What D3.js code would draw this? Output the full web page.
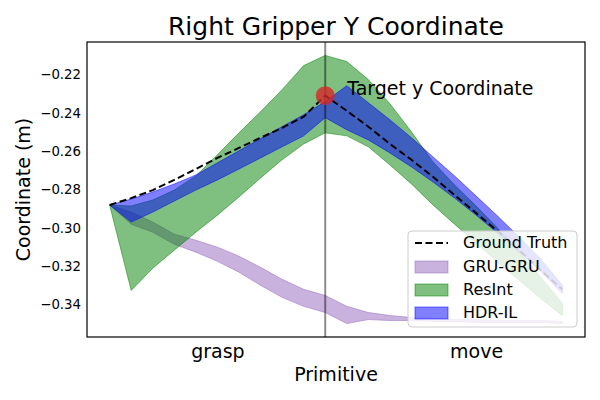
<!DOCTYPE html>
<html><head><meta charset="utf-8">
<script src="https://cdn.jsdelivr.net/npm/d3@7/dist/d3.min.js"></script>
<style>body{margin:0;background:#fff} text{font-family:"DejaVu Sans",sans-serif;fill:#000}</style>
</head><body><svg id="c" width="600" height="400"></svg>
<script>
const steps = [0,1,2,3,4,5,6,7,8,9,10,11,12,13,14,15,16,17,18,19,20,21];
const groundTruth = [-0.2881,-0.2845,-0.2803,-0.2750,-0.2693,-0.2635,-0.2583,-0.2530,-0.2478,-0.2420,-0.2310,-0.2389,-0.2472,-0.2562,-0.2645,-0.2734,-0.2829,-0.2923,-0.3017,-0.3117,-0.3222,-0.3321];
const gruUpper = [-0.2881,-0.2918,-0.2970,-0.3033,-0.3065,-0.3101,-0.3148,-0.3206,-0.3269,-0.3321,-0.3353,-0.3410,-0.3442,-0.3458,-0.3468,-0.3473,-0.3479,-0.3479,-0.3484,-0.3484,-0.3484,-0.3489];
const gruLower = [-0.2881,-0.2981,-0.3023,-0.3086,-0.3127,-0.3175,-0.3232,-0.3300,-0.3363,-0.3410,-0.3442,-0.3500,-0.3479,-0.3484,-0.3484,-0.3489,-0.3489,-0.3494,-0.3494,-0.3494,-0.3494,-0.3500];
const resUpper = [-0.2881,-0.2886,-0.2855,-0.2803,-0.2729,-0.2619,-0.2504,-0.2394,-0.2279,-0.2153,-0.2100,-0.2132,-0.2226,-0.2352,-0.2499,-0.2656,-0.2776,-0.2886,-0.3002,-0.3127,-0.3258,-0.3395];
const resLower = [-0.2881,-0.3327,-0.3211,-0.3117,-0.3023,-0.2934,-0.2839,-0.2740,-0.2645,-0.2562,-0.2504,-0.2520,-0.2577,-0.2672,-0.2771,-0.2881,-0.2981,-0.3080,-0.3180,-0.3274,-0.3369,-0.3458];
const hdrUpper = [-0.2881,-0.2850,-0.2813,-0.2771,-0.2724,-0.2661,-0.2598,-0.2535,-0.2472,-0.2410,-0.2341,-0.2258,-0.2347,-0.2436,-0.2530,-0.2630,-0.2729,-0.2834,-0.2939,-0.3049,-0.3164,-0.3300];
const hdrLower = [-0.2881,-0.2970,-0.2918,-0.2860,-0.2803,-0.2750,-0.2693,-0.2635,-0.2577,-0.2520,-0.2425,-0.2488,-0.2541,-0.2609,-0.2682,-0.2761,-0.2845,-0.2934,-0.3028,-0.3127,-0.3227,-0.3342];
const seriesNames = ["Ground Truth","GRU-GRU","ResInt","HDR-IL"];
const xTickLabels = ["grasp","move"];
const xTickPositions = [5,17];
const yTicks = [-0.34,-0.32,-0.30,-0.28,-0.26,-0.24,-0.22];
const boundaryStep = [10];
const target = [10, -0.231];
const targetLabel = ["Target y Coordinate"];

const svg = d3.select("#c");
const L = 87, R = 585, T = 42, B = 337;

const xMin = d3.min(steps), xMax = d3.max(steps);
const xPad = (xMax - xMin) * 0.05;
const x = d3.scaleLinear().domain([xMin - xPad, xMax + xPad]).range([L, R]);
const allY = [].concat(groundTruth, gruUpper, gruLower, resUpper, resLower, hdrUpper, hdrLower);
const yMin = d3.min(allY), yMax = d3.max(allY);
const yPad = (yMax - yMin) * 0.05;
const y = d3.scaleLinear().domain([yMin - yPad, yMax + yPad]).range([B, T]);

const bands = [
  {name: seriesNames[1], up: gruUpper, lo: gruLower, color: "#9467bd"},
  {name: seriesNames[2], up: resUpper, lo: resLower, color: "#008000"},
  {name: seriesNames[3], up: hdrUpper, lo: hdrLower, color: "#0000ff"}
];

const area = d3.area().x((d,i) => x(steps[i]));
const plot = svg.append("g");
bands.forEach(b => {
  plot.append("path")
    .attr("d", area.y0((d,i) => y(b.lo[i])).y1((d,i) => y(b.up[i]))(steps))
    .attr("fill", b.color).attr("fill-opacity", 0.5)
    .attr("stroke", b.color).attr("stroke-opacity", 0.5).attr("stroke-width", 1);
});

const line = d3.line().x((d,i) => x(steps[i])).y(d => y(d));
plot.append("path").attr("d", line(groundTruth))
  .attr("fill", "none").attr("stroke", "#000").attr("stroke-width", 2)
  .attr("stroke-dasharray", "7,3.5");

plot.append("line")
  .attr("x1", x(boundaryStep[0])).attr("x2", x(boundaryStep[0]))
  .attr("y1", T).attr("y2", B)
  .attr("stroke", "#000").attr("stroke-opacity", 0.45).attr("stroke-width", 2);

plot.append("circle").attr("cx", x(target[0])).attr("cy", y(target[1])).attr("r", 9.5)
  .attr("fill", "#d62728").attr("fill-opacity", 0.8);

plot.append("text").attr("x", x(target[0]) + 22).attr("y", y(target[1]) - 6)
  .attr("font-size", 19).attr("dominant-baseline", "middle").text(targetLabel[0]);

// axes frame
svg.append("rect").attr("x", L).attr("y", T).attr("width", R - L).attr("height", B - T)
  .attr("fill", "none").attr("stroke", "#000").attr("stroke-width", 1.2);

// y axis
const yAxis = d3.axisLeft(y).tickValues(yTicks).tickSize(0).tickPadding(6)
  .tickFormat(d => d3.format(".2f")(d).replace("-", "\u2212"));
const gy = svg.append("g").attr("transform", `translate(${L},0)`).call(yAxis);
gy.select(".domain").remove();
gy.selectAll("text").attr("font-size", 13.3).attr("font-family", "DejaVu Sans").attr("fill", "#000");

// x axis
const xAxis = d3.axisBottom(x).tickValues(xTickPositions).tickSize(0).tickPadding(8)
  .tickFormat((d,i) => xTickLabels[i]);
const gx = svg.append("g").attr("transform", `translate(0,${B})`).call(xAxis);
gx.select(".domain").remove();
gx.selectAll("text").attr("font-size", 19).attr("font-family", "DejaVu Sans").attr("fill", "#000");

// labels
svg.append("text").attr("x", (L + R) / 2).attr("y", 35).attr("text-anchor", "middle")
  .attr("font-size", 25).text("Right Gripper Y Coordinate");
svg.append("text").attr("x", (L + R) / 2).attr("y", 381).attr("text-anchor", "middle")
  .attr("font-size", 19).text("Primitive");
svg.append("text").attr("transform", `translate(30,${(T + B) / 2}) rotate(-90)`)
  .attr("text-anchor", "middle").attr("font-size", 19).text("Coordinate (m)");

// legend
const lg = svg.append("g").attr("transform", "translate(408,231)");
lg.append("rect").attr("width", 169).attr("height", 96).attr("rx", 4)
  .attr("fill", "#fff").attr("fill-opacity", 0.8).attr("stroke", "#ccc").attr("stroke-width", 1);
const rowY = [12, 36, 59, 82];
lg.append("line").attr("x1", 7).attr("x2", 40).attr("y1", rowY[0]).attr("y2", rowY[0])
  .attr("stroke", "#000").attr("stroke-width", 2).attr("stroke-dasharray", "7,3.5");
bands.forEach((b, k) => {
  lg.append("rect").attr("x", 7).attr("y", rowY[k + 1] - 6).attr("width", 33).attr("height", 12)
    .attr("fill", b.color).attr("fill-opacity", 0.5).attr("stroke", b.color).attr("stroke-opacity", 0.5);
});
seriesNames.forEach((n, k) => {
  lg.append("text").attr("x", 55).attr("y", rowY[k]).attr("dominant-baseline", "middle")
    .attr("font-size", 16).text(n);
});
</script></body></html>
